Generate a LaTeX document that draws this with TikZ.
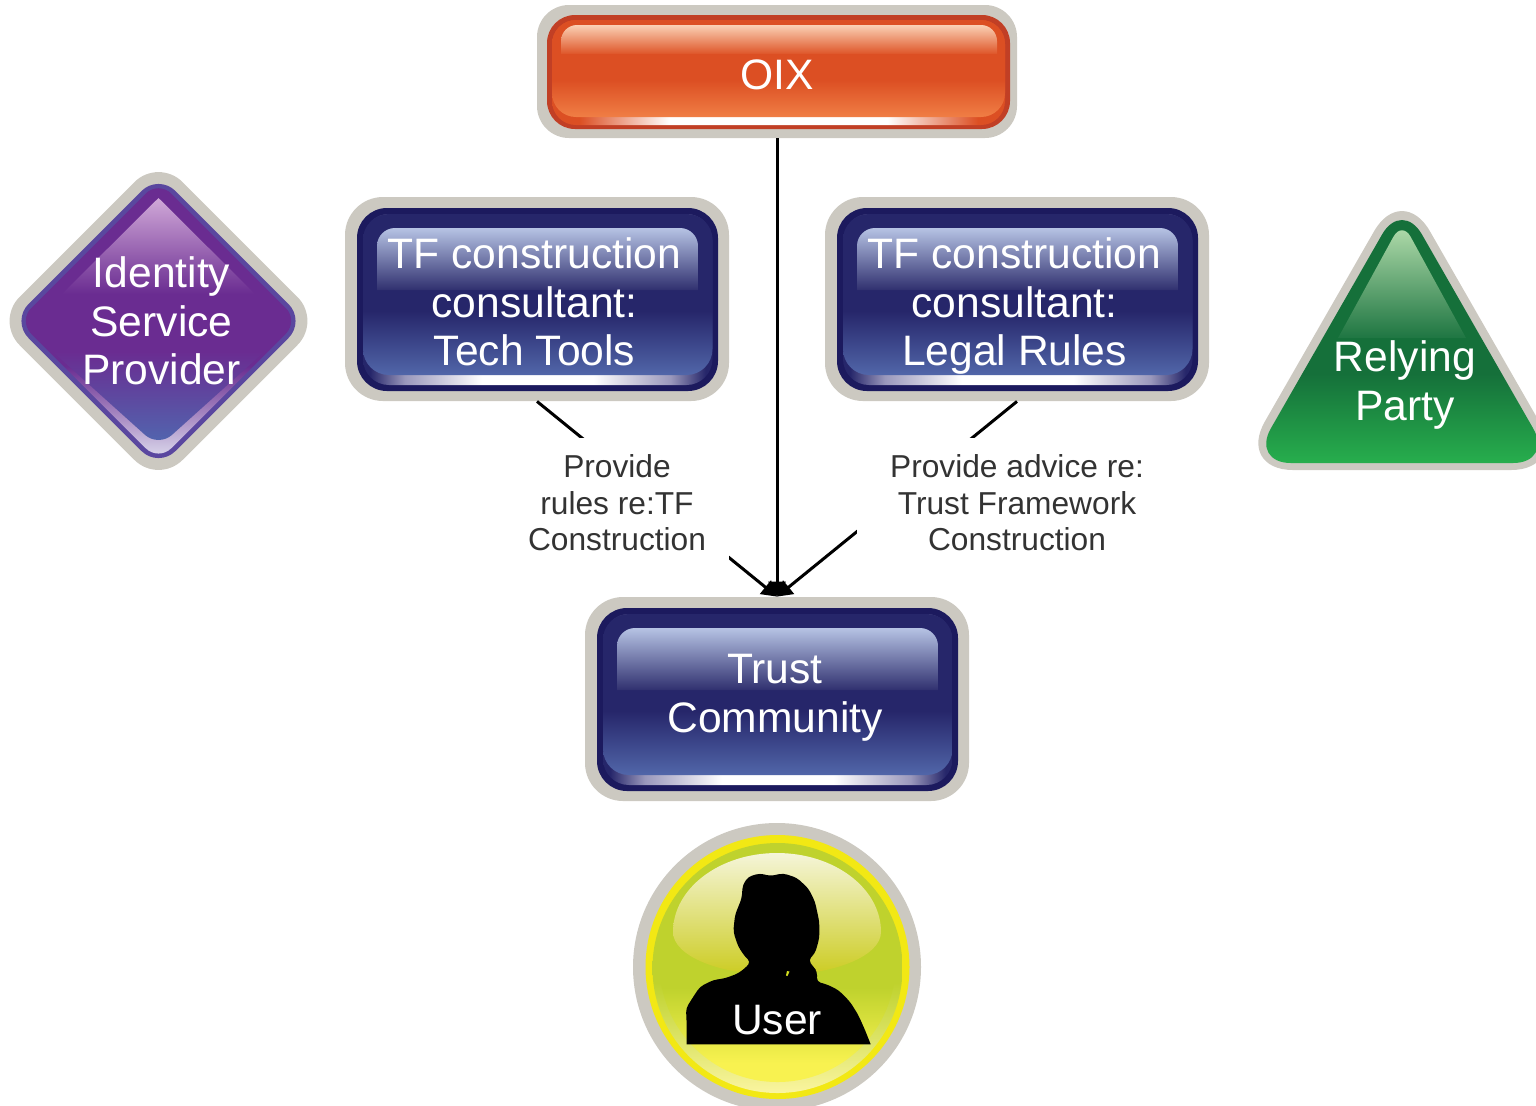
\documentclass[tikz,border=0pt]{standalone}
\usepackage{fontspec}
\setmainfont{Liberation Sans}
\usetikzlibrary{arrows.meta}
\definecolor{greyout}{HTML}{CCC9C1}
\definecolor{bluerim}{HTML}{1C1A5E}
\definecolor{bluedark}{HTML}{26266A}
\definecolor{bluemid}{HTML}{9A98BC}
\definecolor{bluelo}{HTML}{5166A9}
\definecolor{blueglossa}{HTML}{B6C3E4}
\definecolor{blueglossb}{HTML}{30306F}
\definecolor{orim}{HTML}{C13F25}
\definecolor{odark}{HTML}{DC4F23}
\definecolor{olo}{HTML}{F07E45}
\definecolor{oglossa}{HTML}{FAD0B4}
\definecolor{oglossb}{HTML}{DE5528}
\definecolor{prim}{HTML}{5A479F}
\definecolor{pdark}{HTML}{6A2C91}
\definecolor{plo}{HTML}{5068B0}
\definecolor{pgloss}{HTML}{D0A8D8}
\definecolor{pstreak}{HTML}{E0E0F0}
\definecolor{grim}{HTML}{15703A}
\definecolor{glo}{HTML}{27AE4D}
\definecolor{ggloss}{HTML}{B8E0B0}
\definecolor{yring}{HTML}{F2E814}
\definecolor{ylime}{HTML}{BFD22D}
\definecolor{ylo}{HTML}{F8F250}
\definecolor{yrim}{HTML}{FAF5A0}
\definecolor{yglossa}{HTML}{F5F5D8}
\definecolor{yglossb}{HTML}{CCCC22}
\definecolor{labelgrey}{HTML}{333333}
\pgfdeclareverticalshading{bluebody}{100bp}{color(0bp)=(bluelo); color(25bp)=(bluelo); color(45bp)=(bluedark); color(100bp)=(bluedark)}
\pgfdeclarehorizontalshading{bluestreak}{100bp}{color(0bp)=(bluedark); color(26bp)=(bluedark); color(31bp)=(bluemid); color(42bp)=(white); color(58bp)=(white); color(69bp)=(bluemid); color(74bp)=(bluedark); color(100bp)=(bluedark)}
\pgfdeclareverticalshading{obody}{100bp}{color(0bp)=(olo); color(25bp)=(olo); color(44bp)=(odark); color(100bp)=(odark)}
\pgfdeclarehorizontalshading{ostreak}{100bp}{color(0bp)=(odark); color(28bp)=(odark); color(38bp)=(white); color(62bp)=(white); color(72bp)=(odark); color(100bp)=(odark)}
\pgfdeclareverticalshading{pbody}{100bp}{color(0bp)=(plo); color(25bp)=(plo); color(43bp)=(pdark); color(100bp)=(pdark)}
\pgfdeclareverticalshading{pstreakv}{100bp}{color(0bp)=(pstreak); color(25bp)=(pstreak); color(42bp)=(pdark); color(100bp)=(pdark)}
\pgfdeclareverticalshading{gbody}{100bp}{color(0bp)=(glo); color(25bp)=(glo); color(42bp)=(grim); color(100bp)=(grim)}
\pgfdeclareverticalshading{ybase}{100bp}{color(0bp)=(yrim); color(25bp)=(yrim); color(47bp)=(ylime); color(100bp)=(ylime)}
\pgfdeclareverticalshading{ybody}{100bp}{color(0bp)=(ylo); color(29bp)=(ylo); color(45bp)=(ylime); color(100bp)=(ylime)}
\newcommand{\bluebutton}[2]{%
\begin{scope}[shift={(#1,#2)}]
\fill[greyout,rounded corners=19pt] (345,197) rectangle (729,401);
\fill[bluerim,rounded corners=15pt] (357,208) rectangle (718,391);
\shade[shading=bluestreak,rounded corners=13pt] (363,214) rectangle (712.5,385);
\shade[shading=bluebody,rounded corners=13pt] (363,214) rectangle (712.5,375);
\shade[top color=blueglossa,bottom color=blueglossb,rounded corners=9pt] (377,290) -- (377,228) -- (698,228) -- (698,290);
\end{scope}}
\tikzset{
  boxnode/.style={draw=none,fill=none,inner sep=0pt,minimum width=192pt,minimum height=102pt},
  oixnode/.style={draw=none,fill=none,inner sep=0pt,minimum width=240pt,minimum height=66.5pt},
  whitetext/.style={text=white,inner sep=0pt,align=center,font=\fontsize{21.3}{24.3}\selectfont},
  labeltext/.style={fill=white,text=labelgrey,inner sep=0pt,align=center,font=\fontsize{15.85}{18.25}\selectfont},
  flow/.style={black,line width=1.5pt,-{Triangle[length=7.5pt,width=8.5pt]}}
}
\begin{document}
\begin{tikzpicture}[x=0.5pt,y=-0.5pt]
\useasboundingbox (0,0) rectangle (1536,1105);
\clip (0,0) rectangle (1536,1105);
% OIX
\fill[greyout,rounded corners=16pt] (537,5) rectangle (1017,138);
\fill[orim,rounded corners=14pt] (547,15) rectangle (1010,129);
\shade[shading=ostreak,rounded corners=12pt] (552,20) rectangle (1005,125);
\shade[shading=obody,rounded corners=12pt] (552,20) rectangle (1005,117);
\shade[top color=oglossa,bottom color=oglossb,rounded corners=8pt] (561,54) -- (561,25) -- (997,25) -- (997,54);
\node[oixnode] (oix) at (777,71.5) {};
\node[whitetext] (oixtext) at (777,75) {OIX};
% blue boxes
\bluebutton{0}{0}
\bluebutton{480}{0}
\bluebutton{240}{400}
\node[boxnode] (tech) at (537,299) {};
\node[boxnode] (legal) at (1017,299) {};
\node[boxnode] (trust) at (777,699) {};
\node[whitetext] (techtext) at (534.5,302) {TF construction\\consultant:\\Tech Tools};
\node[whitetext] (legaltext) at (1014.5,306) {TF construction\\consultant:\\Legal Rules};
\node[whitetext] (trusttext) at (775,698) {Trust\\Community};
% connectors
\draw[flow] (oix.south) -- (trust.north);
\draw[flow] (tech.south) -- (trust.north);
\draw[flow] (legal.south) -- (trust.north);
\node[labeltext,minimum width=112pt,minimum height=65pt] (ruleslabel) at (617,503) {Provide\\rules re:TF\\Construction};
\node[labeltext,minimum width=160pt,minimum height=65pt] (advicelabel) at (1017,503) {Provide advice re:\\Trust Framework\\Construction};
% diamond
\fill[greyout,rounded corners=17pt] (158.5,158) -- (321.5,321) -- (158.5,484) -- (-4.5,321) -- cycle;
\fill[prim,rounded corners=12pt] (158.5,174) -- (305.5,321) -- (158.5,468) -- (11.5,321) -- cycle;
\shade[shading=pstreakv,rounded corners=9pt] (158.5,181) -- (298.5,321) -- (158.5,461) -- (18.5,321) -- cycle;
\shade[shading=pbody,rounded corners=9pt] (158.5,181) -- (298.5,321) -- (158.5,447) -- (18.5,321) -- cycle;
\shade[top color=pgloss,bottom color=pdark] (158.5,198) -- (255,294) -- (62,294) -- cycle;
\node[whitetext] (idptext) at (161.5,321) {Identity\\Service\\Provider};
% triangle
\fill[greyout,rounded corners=28pt] (1402,182.6) -- (1567,470) -- (1237,470) -- cycle;
\shade[shading=gbody,rounded corners=20pt] (1402,199.7) -- (1553,463) -- (1251,463) -- cycle;
\shade[top color=ggloss,bottom color=grim!96!white] (1338,338) [rounded corners=9pt] -- (1402,221) [sharp corners] -- (1466,338) -- cycle;
\node[whitetext] (rptext) at (1405,385) {Relying\\Party};
% user
\fill[greyout] (777,967) circle (144);
\fill[yring] (777.5,967) circle (132);
\shade[shading=ybase] (777.5,968) circle (125);
\shade[shading=ybody] (777.5,964) circle (118);
\shade[top color=yglossa,bottom color=yglossb] (673,932) .. controls (673,888) and (720,853) .. (777,853) .. controls (834,853) and (881,888) .. (881,932) .. controls (881,956) and (834,975) .. (777,975) .. controls (720,975) and (673,956) .. (673,932) -- cycle;
\fill[black] (686.7,1044.3) [rounded corners=2pt] -- (686.7,1025) -- (686,1008.3) -- (693.3,996.7) -- (700,986.7) -- (713.3,980) -- (725,978.3) -- (738.3,973.3) -- (746.7,966.7) -- (750.7,961.7) -- (745,956.7) -- (738.3,946.7) -- (733.3,931.7) -- (735,915) -- (741.7,898.3) -- (742.7,885) -- (748.3,876.7) -- (760,873.3) -- (770,876) -- (783.3,873.3) -- (796.7,877.7) -- (808.3,888.3) -- (815,901.7) -- (819.3,921.7) -- (819.3,938.3) -- (815,953.3) -- (808.3,960) -- (813.3,966.7) -- (817.3,971.7) -- (816.7,981.7) -- (826.7,984.3) -- (838.3,990) -- (850,1001.7) -- (858.3,1015) -- (865,1030) [sharp corners] -- (870.7,1044.3) -- cycle;
\fill[ylime!70!yellow] (787,971) -- (789.5,971.5) -- (787.5,976) -- (786,975.5) -- cycle;
\node[whitetext] (usertext) at (777,1020) {User};
\end{tikzpicture}
\end{document}
